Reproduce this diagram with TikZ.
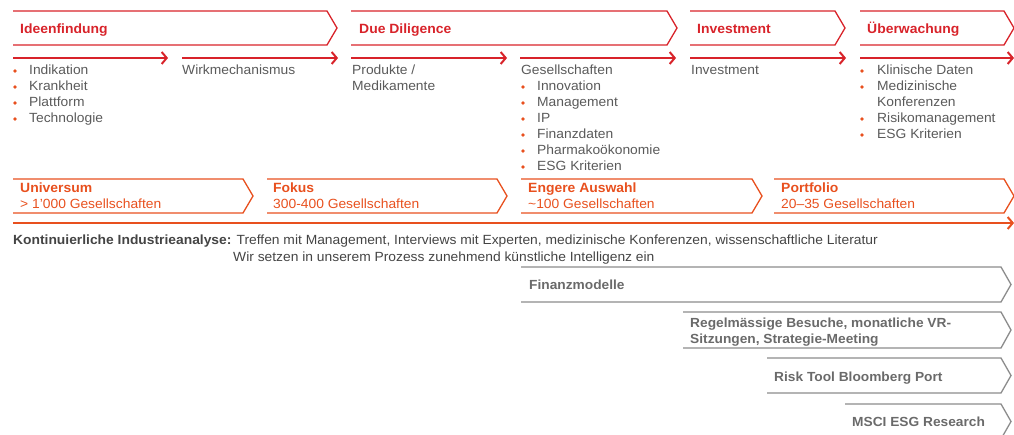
\documentclass[tikz,border=0pt]{standalone}
\usepackage{fontspec}
\setmainfont{Liberation Sans}[FakeStretch=1.04]
\usetikzlibrary{arrows.meta}
\definecolor{cred}{HTML}{D8232A}
\definecolor{corange}{HTML}{E8501E}
\definecolor{ctext}{HTML}{5A5A5A}
\definecolor{cdark}{HTML}{444444}
\definecolor{cgline}{HTML}{8C8C8C}
\definecolor{cgtext}{HTML}{6A6A6A}
\newcommand\chevshape[5]{\draw[#5] (#1,#3) -- (#2,#3) -- (#2+10,{(#3+#4)/2}) -- (#2,#4) -- (#1,#4);}
\begin{document}
\begin{tikzpicture}[x=1pt,y=-1pt,
  txt/.style={anchor=base west, inner sep=0pt, font=\fontsize{13.3}{16}\selectfont, text=ctext},
  ttl/.style={anchor=base west, inner sep=0pt, font=\fontsize{13.4}{16}\selectfont\bfseries, text=cred},
  ttlo/.style={anchor=base west, inner sep=0pt, font=\fontsize{13.4}{16}\selectfont\bfseries, text=corange},
  subo/.style={anchor=base west, inner sep=0pt, font=\fontsize{13.3}{16}\selectfont, text=corange},
  gtxt/.style={anchor=base west, inner sep=0pt, font=\fontsize{13.2}{16}\selectfont\bfseries, text=cgtext},
  bul/.style={circle, fill=corange, inner sep=0pt, minimum size=3.6pt},
  redchev/.style={draw=cred, line width=1.3pt, line join=miter},
  orchev/.style={draw=corange, line width=1.3pt, line join=miter},
  graychev/.style={draw=cgline, line width=1.3pt, line join=miter},
  rarrow/.style={draw=cred, line width=2pt, -{Straight Barb[length=5pt,width=12pt]}},
  oarrow/.style={draw=corange, line width=2pt, -{Straight Barb[length=5pt,width=12pt]}}
]
\useasboundingbox (0,0) rectangle (1014,435);
% top chevrons
\chevshape{13}{327}{11}{45}{redchev}
\chevshape{351}{667}{11}{45}{redchev}
\chevshape{690}{835}{11}{45}{redchev}
\chevshape{860}{1004}{11}{45}{redchev}
\node[ttl] (t1) at (20,34) {Ideenfindung};
\node[ttl] (t2) at (359,34) {Due Diligence};
\node[ttl] (t3) at (697,34) {Investment};
\node[ttl] (t4) at (867,34) {Überwachung};
% arrows row
\coordinate (a1s) at (13,58); \coordinate (a1e) at (168,58);
\coordinate (a2s) at (182,58); \coordinate (a2e) at (338,58);
\coordinate (a3s) at (351,58); \coordinate (a3e) at (507,58);
\coordinate (a4s) at (520,58); \coordinate (a4e) at (676,58);
\coordinate (a5s) at (690,58); \coordinate (a5e) at (846,58);
\coordinate (a6s) at (860,58); \coordinate (a6e) at (1014,58);
\draw[rarrow] (a1s) -- (a1e);
\draw[rarrow] (a2s) -- (a2e);
\draw[rarrow] (a3s) -- (a3e);
\draw[rarrow] (a4s) -- (a4e);
\draw[rarrow] (a5s) -- (a5e);
\draw[rarrow] (a6s) -- (a6e);
% column 1
\node[bul] (b11) at (15,71) {}; \node[txt] (l11) at (29,75) {Indikation};
\node[bul] (b12) at (15,87) {}; \node[txt] (l12) at (29,91) {Krankheit};
\node[bul] (b13) at (15,103) {}; \node[txt] (l13) at (29,107) {Plattform};
\node[bul] (b14) at (15,119) {}; \node[txt] (l14) at (29,123) {Technologie};
% column 2
\node[txt] (l21) at (182,75) {Wirkmechanismus};
% column 3
\node[txt] (l31) at (352,75) {Produkte /};
\node[txt] (l32) at (352,91) {Medikamente};
% column 4
\node[txt] (l41) at (521,75) {Gesellschaften};
\node[bul] (b42) at (523,87) {}; \node[txt] (l42) at (537,91) {Innovation};
\node[bul] (b43) at (523,103) {}; \node[txt] (l43) at (537,107) {Management};
\node[bul] (b44) at (523,119) {}; \node[txt] (l44) at (537,123) {IP};
\node[bul] (b45) at (523,135) {}; \node[txt] (l45) at (537,139) {Finanzdaten};
\node[bul] (b46) at (523,151) {}; \node[txt] (l46) at (537,155) {Pharmakoökonomie};
\node[bul] (b47) at (523,167) {}; \node[txt] (l47) at (537,171) {ESG Kriterien};
% column 5
\node[txt] (l51) at (691,75) {Investment};
% column 6
\node[bul] (b61) at (862,71) {}; \node[txt] (l61) at (877,75) {Klinische Daten};
\node[bul] (b62) at (862,87) {}; \node[txt] (l62) at (877,91) {Medizinische};
\node[txt] (l63) at (877,107) {Konferenzen};
\node[bul] (b64) at (862,119) {}; \node[txt] (l64) at (877,123) {Risikomanagement};
\node[bul] (b65) at (862,135) {}; \node[txt] (l65) at (877,139) {ESG Kriterien};
% second row chevrons
\chevshape{13}{243}{179}{213}{orchev}
\chevshape{267}{497}{179}{213}{orchev}
\chevshape{521}{752}{179}{213}{orchev}
\chevshape{774}{1004}{179}{213}{orchev}
\node[ttlo] (u1) at (20,193) {Universum};
\node[subo] (s1) at (20,209) {> 1’000 Gesellschaften};
\node[ttlo] (u2) at (273,193) {Fokus};
\node[subo] (s2) at (273,209) {300-400 Gesellschaften};
\node[ttlo] (u3) at (528,193) {Engere Auswahl};
\node[subo] (s3) at (528,209) {\textasciitilde100 Gesellschaften};
\node[ttlo] (u4) at (781,193) {Portfolio};
\node[subo] (s4) at (781,209) {20–35 Gesellschaften};
% long arrow
\coordinate (ls) at (13,223); \coordinate (le) at (1014,223);
\draw[oarrow] (ls) -- (le);
% continuous analysis
\node[txt, text=cdark] (k1) at (13,245) {\textbf{Kontinuierliche Industrieanalyse:} Treffen mit Management, Interviews mit Experten, medizinische Konferenzen, wissenschaftliche Literatur};
\node[txt, text=cdark] (k2) at (233,262) {Wir setzen in unserem Prozess zunehmend künstliche Intelligenz ein};
% gray chevrons
\chevshape{521}{1001}{267}{302}{graychev}
\chevshape{683}{1001}{312}{348}{graychev}
\chevshape{767}{1001}{358}{393}{graychev}
\chevshape{845}{1001}{404}{439}{graychev}
\node[gtxt] (g1) at (529,290) {Finanzmodelle};
\node[gtxt] (g2a) at (690,328) {Regelmässige Besuche, monatliche VR-};
\node[gtxt] (g2b) at (690,344) {Sitzungen, Strategie-Meeting};
\node[gtxt] (g3) at (774,381) {Risk Tool Bloomberg Port};
\node[gtxt] (g4) at (852,426) {MSCI ESG Research};
\end{tikzpicture}
\end{document}
